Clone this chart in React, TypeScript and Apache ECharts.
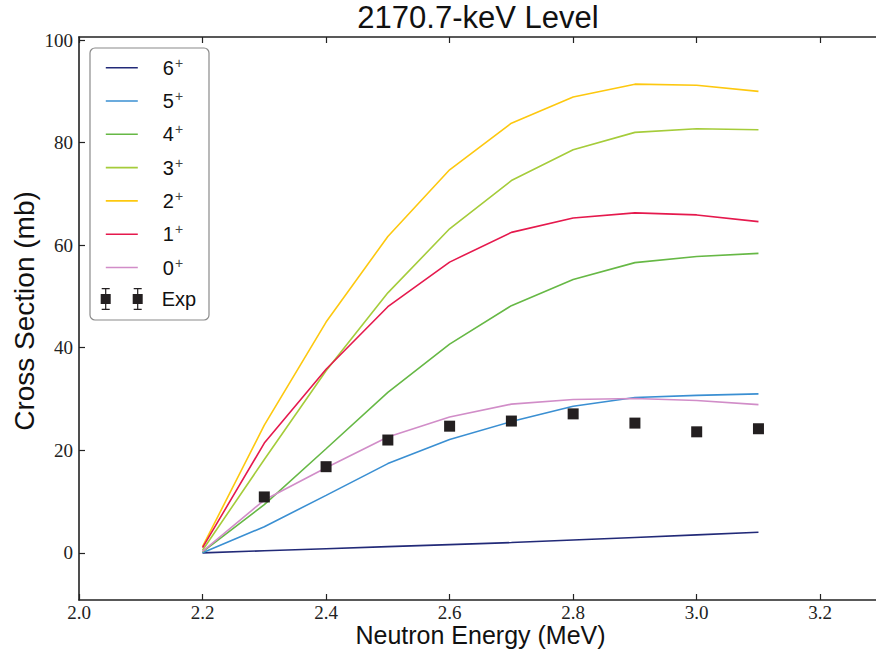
import React, { useEffect, useRef } from "react";
import * as echarts from "echarts";

// Neutron energies (MeV) at which the calculated curves are evaluated
const energies = [2.2, 2.3, 2.4, 2.5, 2.6, 2.7, 2.8, 2.9, 3.0, 3.1];

// Calculated cross sections (mb) for each spin assignment
const spinNames = ["6+", "5+", "4+", "3+", "2+", "1+", "0+"];
const spinColors = ["#222a78", "#3a8fd2", "#66b845", "#a5cc3a", "#fdc80f", "#e5194d", "#d18dc8"];
const sigma6 = [0, 0.4, 0.8, 1.2, 1.6, 2.0, 2.5, 3.0, 3.5, 4.0];
const sigma5 = [0, 5.1, 11.2, 17.4, 22.1, 25.6, 28.6, 30.3, 30.7, 31.0];
const sigma4 = [0.2, 9.4, 20.3, 31.3, 40.7, 48.2, 53.3, 56.6, 57.8, 58.4];
const sigma3 = [0.5, 18.2, 35.5, 50.7, 63.2, 72.6, 78.6, 82.0, 82.7, 82.5];
const sigma2 = [1.2, 24.9, 45.0, 61.7, 74.7, 83.8, 88.9, 91.4, 91.2, 90.0];
const sigma1 = [1.0, 21.4, 35.8, 48.0, 56.7, 62.5, 65.3, 66.3, 65.9, 64.6];
const sigma0 = [0.3, 10.3, 16.6, 22.6, 26.5, 29.0, 29.9, 30.1, 29.7, 28.9];
const spinValues = [sigma6, sigma5, sigma4, sigma3, sigma2, sigma1, sigma0];

// Measured cross sections
const expEnergies = [2.3, 2.4, 2.5, 2.6, 2.7, 2.8, 2.9, 3.0, 3.1];
const expValues = [10.9, 16.8, 22.0, 24.7, 25.7, 27.1, 25.3, 23.6, 24.2];

// Tick positions and labels
const xTicks = [2.0, 2.2, 2.4, 2.6, 2.8, 3.0, 3.2];
const yTicks = [0, 20, 40, 60, 80, 100];

const titleText = "2170.7-keV Level";
const xName = "Neutron Energy (MeV)";
const yName = "Cross Section (mb)";

const SANS = "'Liberation Sans', Arial, Helvetica, sans-serif";
const SERIF = "'Liberation Serif', 'Times New Roman', serif";
const INK = "#222";
const MARK = "#231f20";

// Legend glyph: two filled squares, each with a capped vertical error bar
const expIcon =
  "path://M0,6H10V16H0Z M4.4,0H5.6V22H4.4Z M1,0H9V1.2H1Z M1,20.8H9V22H1Z " +
  "M32,6H42V16H32Z M36.4,0H37.6V22H36.4Z M33,0H41V1.2H33Z M33,20.8H41V22H33Z";

const legendText = (name: string) =>
  name.endsWith("+") ? `{n|${name.slice(0, -1)}}{sup|+}` : `{n|${name}}`;

const legendRich = {
  n: { fontFamily: SANS, fontSize: 20, lineHeight: 24, color: "#111" },
  sup: { fontFamily: SANS, fontSize: 14, lineHeight: 14, verticalAlign: "top", color: "#444", padding: [0, 0, 0, 1] },
};

// Serif tick numbers
const TICK_FONT = 19;
const tickRich = { t: { fontFamily: SERIF, fontSize: TICK_FONT, color: INK } };

export default function App() {
  const ref = useRef<HTMLDivElement>(null);

  useEffect(() => {
    if (!ref.current) return;
    const chart = echarts.init(ref.current, null, { renderer: "svg" });

    const axisLine = { show: true, onZero: false, lineStyle: { color: INK, width: 1.6 } };
    const tickStyle = { color: INK, width: 1.2 };

    const lineSeries = spinNames.map((name, i) => ({
      name,
      type: "line",
      data: energies.map((e, k) => [e, spinValues[i][k]]),
      symbol: "none",
      lineStyle: { color: spinColors[i], width: 1.6 },
      itemStyle: { color: spinColors[i] },
      z: 3,
    }));

    chart.setOption({
      animation: false,
      backgroundColor: "#fff",
      grid: { left: 79, top: 37, right: 8, bottom: 52, containLabel: false, outerBoundsMode: "none" },
      xAxis: [
        {
          type: "value",
          position: "bottom",
          min: 2.0,
          max: 3.3,
          axisLine,
          axisTick: { show: true, inside: true, length: 6, lineStyle: tickStyle, customValues: xTicks },
          axisLabel: {
            customValues: xTicks,
            formatter: (v: number) => `{t|${v.toFixed(1)}}`,
            rich: tickRich,
            fontFamily: SERIF,
            fontSize: TICK_FONT,
            color: INK,
            margin: 3,
          },
          splitLine: { show: false },
          name: xName,
          nameLocation: "middle",
          nameGap: 22.5,
          nameMoveOverlap: false,
          nameTextStyle: { fontFamily: SANS, fontSize: 25, color: "#111" },
        },
        {
          type: "value",
          position: "top",
          min: 2.0,
          max: 3.3,
          axisLine,
          axisTick: { show: true, inside: true, length: 6, lineStyle: tickStyle, customValues: xTicks },
          axisLabel: { show: false },
          splitLine: { show: false },
        },
      ],
      yAxis: [
        {
          type: "value",
          position: "left",
          min: -9.2,
          max: 100.6,
          axisLine,
          axisTick: { show: true, inside: true, length: 6, lineStyle: tickStyle, customValues: yTicks },
          axisLabel: {
            customValues: yTicks,
            formatter: (v: number) => `{t|${v}}`,
            rich: tickRich,
            fontFamily: SERIF,
            fontSize: TICK_FONT,
            color: INK,
            margin: 6,
          },
          splitLine: { show: false },
          name: yName,
          nameLocation: "middle",
          nameGap: 41,
          nameMoveOverlap: false,
          nameTextStyle: { fontFamily: SANS, fontSize: 28, color: "#111", padding: [0, 0, 0, 15] },
        },
        {
          type: "value",
          position: "right",
          min: -9.2,
          max: 100.6,
          axisLine,
          axisTick: { show: true, inside: true, length: 6, lineStyle: tickStyle, customValues: yTicks },
          axisLabel: { show: false },
          splitLine: { show: false },
        },
      ],
      legend: [
        {
          data: spinNames,
          orient: "vertical",
          left: 105,
          top: 55.7,
          padding: 0,
          itemWidth: 32,
          itemHeight: 22,
          itemGap: 11.3,
          selectedMode: false,
          formatter: legendText,
          itemStyle: { color: "transparent", borderWidth: 0, opacity: 0 },
          lineStyle: { width: 1.6 },
          textStyle: { fontFamily: SANS, fontSize: 20, color: "#111", padding: [0, 0, 0, 20], rich: legendRich },
          z: 10,
        },
        {
          data: [{ name: "Exp", icon: expIcon }],
          orient: "vertical",
          left: 100.7,
          top: 288,
          padding: 0,
          itemWidth: 42,
          itemHeight: 22,
          selectedMode: false,
          formatter: legendText,
          itemStyle: { color: MARK, opacity: 1 },
          textStyle: { fontFamily: SANS, fontSize: 20, color: "#111", padding: [0, 0, 0, 14], rich: legendRich },
          z: 10,
        },
      ],
      graphic: [
        {
          type: "rect",
          shape: { x: 90, y: 48, width: 119, height: 272, r: 5 },
          style: { fill: "#fff", stroke: "#8a8a8a", lineWidth: 1.2 },
          z: 5,
        },
        {
          type: "text",
          x: 478,
          y: 17,
          style: {
            text: titleText,
            fontFamily: SANS,
            fontSize: 31,
            fill: "#111",
            textAlign: "center",
            textVerticalAlign: "middle",
          },
          z: 10,
        },
      ],
      series: [
        ...lineSeries,
        {
          name: "Exp",
          type: "scatter",
          data: expEnergies.map((e, k) => [e, expValues[k]]),
          symbol: "rect",
          symbolSize: 11,
          itemStyle: { color: MARK, opacity: 1 },
          z: 4,
        },
      ],
    });

    return () => chart.dispose();
  }, []);

  return (
    <div
      style={{
        position: "absolute",
        left: 0,
        top: 0,
        width: 876,
        height: 652,
        overflow: "hidden",
        background: "#fff",
      }}
    >
      <div ref={ref} style={{ width: 890, height: 652 }} />
    </div>
  );
}
